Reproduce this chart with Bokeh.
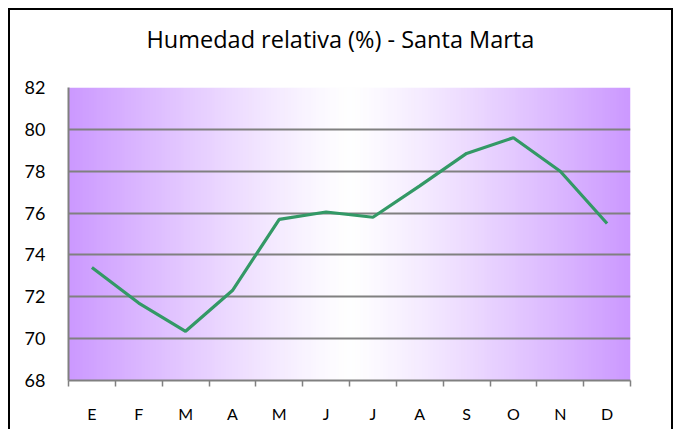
import numpy as np
from bokeh.plotting import figure
from bokeh.models import FixedTicker, Range1d, Title
from bokeh.embed import file_html
from bokeh.resources import INLINE

months = ["E", "F", "M", "A", "M", "J", "J", "A", "S", "O", "N", "D"]
humidity = [73.4, 71.7, 70.35, 72.3, 75.7, 76.05, 75.8, 77.3, 78.85, 79.6, 78.0, 75.5]
y_ticks = [68, 70, 72, 74, 76, 78, 80, 82]
title_text = "Humedad relativa (%) - Santa Marta"

FONT = "Lato"
n = len(months)
xs = [i + 0.5 for i in range(n)]

p = figure(width=665, height=421, output_backend="svg", toolbar_location=None,
           x_range=Range1d(0, n), y_range=Range1d(68, 82),
           min_border_left=58, min_border_right=45, min_border_top=77, min_border_bottom=51)
p.styles = {"border-top": "2px solid black", "border-left": "2px solid black",
            "border-right": "2px solid black", "position": "relative",
            "left": "8px", "top": "8px"}
p.background_fill_color = "white"
p.border_fill_color = "white"
p.outline_line_color = None

# horizontal gradient: purple edges -> white centre
W = 200
t = np.abs(np.linspace(-1, 1, W)) ** 1.2
edge = np.array([204, 153, 255], dtype=float)
white = np.array([255, 255, 255], dtype=float)
cols = white[None, :] * (1 - t[:, None]) + edge[None, :] * t[:, None]
img = np.zeros((1, W), dtype=np.uint32)
view = img.view(dtype=np.uint8).reshape((1, W, 4))
view[0, :, 0] = cols[:, 0].astype(np.uint8)
view[0, :, 1] = cols[:, 1].astype(np.uint8)
view[0, :, 2] = cols[:, 2].astype(np.uint8)
view[0, :, 3] = 255
p.image_rgba(image=[img], x=0, y=68, dw=n, dh=14, level="image")

p.line(xs, humidity, line_color="#339966", line_width=3.2)

# axes
p.xaxis.ticker = FixedTicker(ticks=xs, minor_ticks=list(range(n + 1)))
p.xaxis.major_label_overrides = {x: m for x, m in zip(xs, months)}
p.xaxis.major_tick_line_color = None
p.xaxis.minor_tick_line_color = "#808080"
p.xaxis.minor_tick_line_width = 1.5
p.xaxis.minor_tick_in = 0
p.xaxis.minor_tick_out = 6
p.xaxis.major_label_standoff = 17
p.xaxis.axis_line_color = "#808080"
p.xaxis.axis_line_width = 2

p.yaxis.ticker = FixedTicker(ticks=y_ticks)
p.yaxis.major_tick_line_color = None
p.yaxis.minor_tick_line_color = None
p.yaxis.axis_line_color = "#808080"
p.yaxis.axis_line_width = 2
p.yaxis.major_label_standoff = 17

p.xaxis.major_label_text_font_size = "16px"
p.yaxis.major_label_text_font_size = "18px"
for ax in (p.xaxis, p.yaxis):
    ax.major_label_text_font = FONT
    ax.major_label_text_color = "black"

p.xgrid.grid_line_color = None
p.ygrid.ticker = FixedTicker(ticks=y_ticks)
p.ygrid.grid_line_color = "#808080"
p.ygrid.grid_line_width = 2
p.ygrid.level = "underlay"

p.add_layout(Title(text=title_text + "\n ", align="left", offset=78, standoff=2,
                   vertical_align="bottom",
                   text_font="Open Sans", text_font_size="23.5px", text_font_style="normal",
                   text_color="black"), "above")

open("out.html", "w").write(file_html(p, INLINE))
